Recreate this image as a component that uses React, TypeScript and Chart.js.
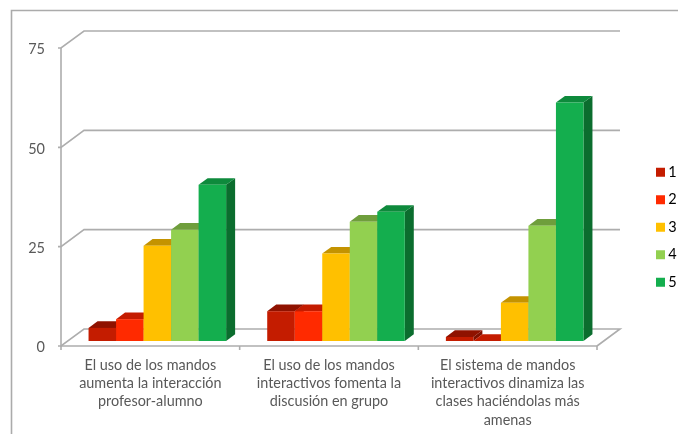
import React, { useEffect, useRef } from "react";
import { Chart, registerables } from "chart.js";

Chart.register(...registerables);

const categories = [
  ["El uso de los mandos", "aumenta la interacción", "profesor-alumno"],
  ["El uso de los mandos", "interactivos fomenta la", "discusión en grupo"],
  ["El sistema de mandos", "interactivos dinamiza las", "clases haciéndolas más", "amenas"],
];
const seriesNames = ["1", "2", "3", "4", "5"];
const series1 = [3.3, 7.5, 1];
const series2 = [5.5, 7.5, 0];
const series3 = [24, 22, 9.6];
const series4 = [28, 30, 29];
const series5 = [39.3, 32.5, 60];
const frontColors = ["#C41C00", "#FF2A00", "#FFC000", "#92D050", "#14AE4E"];
const topColors = ["#8F1200", "#C41C00", "#C49300", "#6F9E3C", "#0E8A3C"];
const sideColors = ["#7E1000", "#A81800", "#A67C00", "#5F8733", "#0B6D2E"];

const GRID = "#ADADAD";
const WALL_DX = 23;
const WALL_DY = 17;
const BAR_SHIFT_X = 7;
const BAR_SHIFT_Y = 5;
const DEPTH_X = 9;
const DEPTH_Y = 6.7;

function poly(ctx: CanvasRenderingContext2D, pts: number[][], color: string) {
  ctx.fillStyle = color;
  ctx.beginPath();
  pts.forEach((p, i) => (i ? ctx.lineTo(p[0], p[1]) : ctx.moveTo(p[0], p[1])));
  ctx.closePath();
  ctx.fill();
}

const scene3d = {
  id: "scene3d",
  afterLayout(chart: any) {
    const lg = chart.legend;
    lg.left = 647;
    lg.right = 700;
    lg.top = 152;
    lg.bottom = 320;
    lg.width = 53;
    lg.height = 168;
    const y = chart.scales.y;
    if (!y.__shifted) {
      y.__shifted = true;
      const orig = y.drawLabels;
      y.drawLabels = function (area: any) {
        this.ctx.save();
        this.ctx.translate(0, 1.5);
        orig.call(this, area);
        this.ctx.restore();
      };
    }
  },
  beforeDatasetsDraw(chart: any) {
    const { ctx, scales } = chart;
    const { x, y } = scales;
    ctx.save();
    ctx.strokeStyle = "#ABABAB";
    ctx.lineWidth = 1.6;
    ctx.beginPath();
    ctx.moveTo(11.5, 434);
    ctx.lineTo(11.5, 10.5);
    ctx.lineTo(678, 10.5);
    ctx.stroke();

    ctx.strokeStyle = GRID;
    const left = x.left;
    const right = x.right;
    const bottom = y.getPixelForValue(0);
    const top = y.getPixelForValue(75);
    y.ticks.forEach((t: any) => {
      const py = y.getPixelForValue(t.value);
      ctx.beginPath();
      ctx.moveTo(left - 3, py);
      ctx.lineTo(left, py);
      ctx.lineTo(left + WALL_DX, py - WALL_DY);
      ctx.lineTo(right + WALL_DX, py - WALL_DY);
      if (t.value === 0) ctx.lineTo(right, py);
      ctx.stroke();
    });
    ctx.beginPath();
    ctx.moveTo(left, top);
    ctx.lineTo(left, bottom);
    ctx.lineTo(right, bottom);
    ctx.stroke();
    const n = categories.length;
    for (let i = 0; i <= n; i++) {
      const px = left + ((right - left) * i) / n;
      ctx.beginPath();
      ctx.moveTo(px, bottom);
      ctx.lineTo(px, bottom + 4);
      ctx.stroke();
    }

    ctx.translate(BAR_SHIFT_X, -BAR_SHIFT_Y);
    chart.data.datasets.forEach((_: any, di: number) => {
      chart.getDatasetMeta(di).data.forEach((el: any) => {
        const l = el.x - el.width / 2;
        const r = el.x + el.width / 2;
        const t = el.y;
        const b = el.base;
        poly(ctx, [[r, t], [r + DEPTH_X, t - DEPTH_Y], [r + DEPTH_X, b - DEPTH_Y], [r, b]], sideColors[di]);
        poly(ctx, [[l, t], [l + DEPTH_X, t - DEPTH_Y], [r + DEPTH_X, t - DEPTH_Y], [r, t]], topColors[di]);
        el.draw(ctx);
      });
    });
    ctx.restore();
    return false;
  },
};

export default function App() {
  const ref = useRef<HTMLCanvasElement>(null);
  useEffect(() => {
    const values = [series1, series2, series3, series4, series5];
    const chart = new Chart(ref.current as HTMLCanvasElement, {
      type: "bar",
      data: {
        labels: categories,
        datasets: seriesNames.map((name, i) => ({
          label: name,
          data: values[i],
          backgroundColor: frontColors[i],
          borderWidth: 0,
          categoryPercentage: 0.77,
          barPercentage: 1,
        })),
      },
      options: {
        responsive: false,
        animation: false,
        layout: { padding: { left: 0, right: 81, top: 48, bottom: 0 } },
        scales: {
          x: {
            afterFit: (s: any) => { s.height = 88; },
            grid: { display: false },
            border: { display: false },
            ticks: {
              color: "#595959",
              font: { family: "Lato", size: 14.4, lineHeight: 1.27 },
              padding: 2,
              maxRotation: 0,
              minRotation: 0,
              autoSkip: false,
            },
          },
          y: {
            min: 0,
            max: 75,
            afterFit: (s: any) => { s.width = 61; },
            grid: { display: false },
            border: { display: false },
            ticks: {
              stepSize: 25,
              color: "#595959",
              font: { family: "Lato", size: 14.5 },
              padding: 8,
            },
          },
        },
        plugins: {
          title: { display: false },
          tooltip: { enabled: false },
          legend: {
            position: "chartArea",
            align: "start",
            labels: {
              boxWidth: 1,
              boxHeight: 1,
              padding: 13,
              color: "#404040",
              font: { family: "Lato", size: 14.5 },
              generateLabels: () =>
                seriesNames.map((name, i) => ({
                  text: name,
                  fillStyle: frontColors[i],
                  strokeStyle: frontColors[i],
                  lineWidth: 8,
                  datasetIndex: i,
                  hidden: false,
                })),
            },
          },
        },
      } as any,
      plugins: [scene3d as any],
    });
    return () => chart.destroy();
  }, []);
  return (
    <div style={{ position: "absolute", left: 0, top: 0, width: 678, height: 434, background: "#FFFFFF" }}>
      <canvas ref={ref} width={678} height={434} style={{ display: "block", filter: "blur(0.4px)" }} />
    </div>
  );
}
